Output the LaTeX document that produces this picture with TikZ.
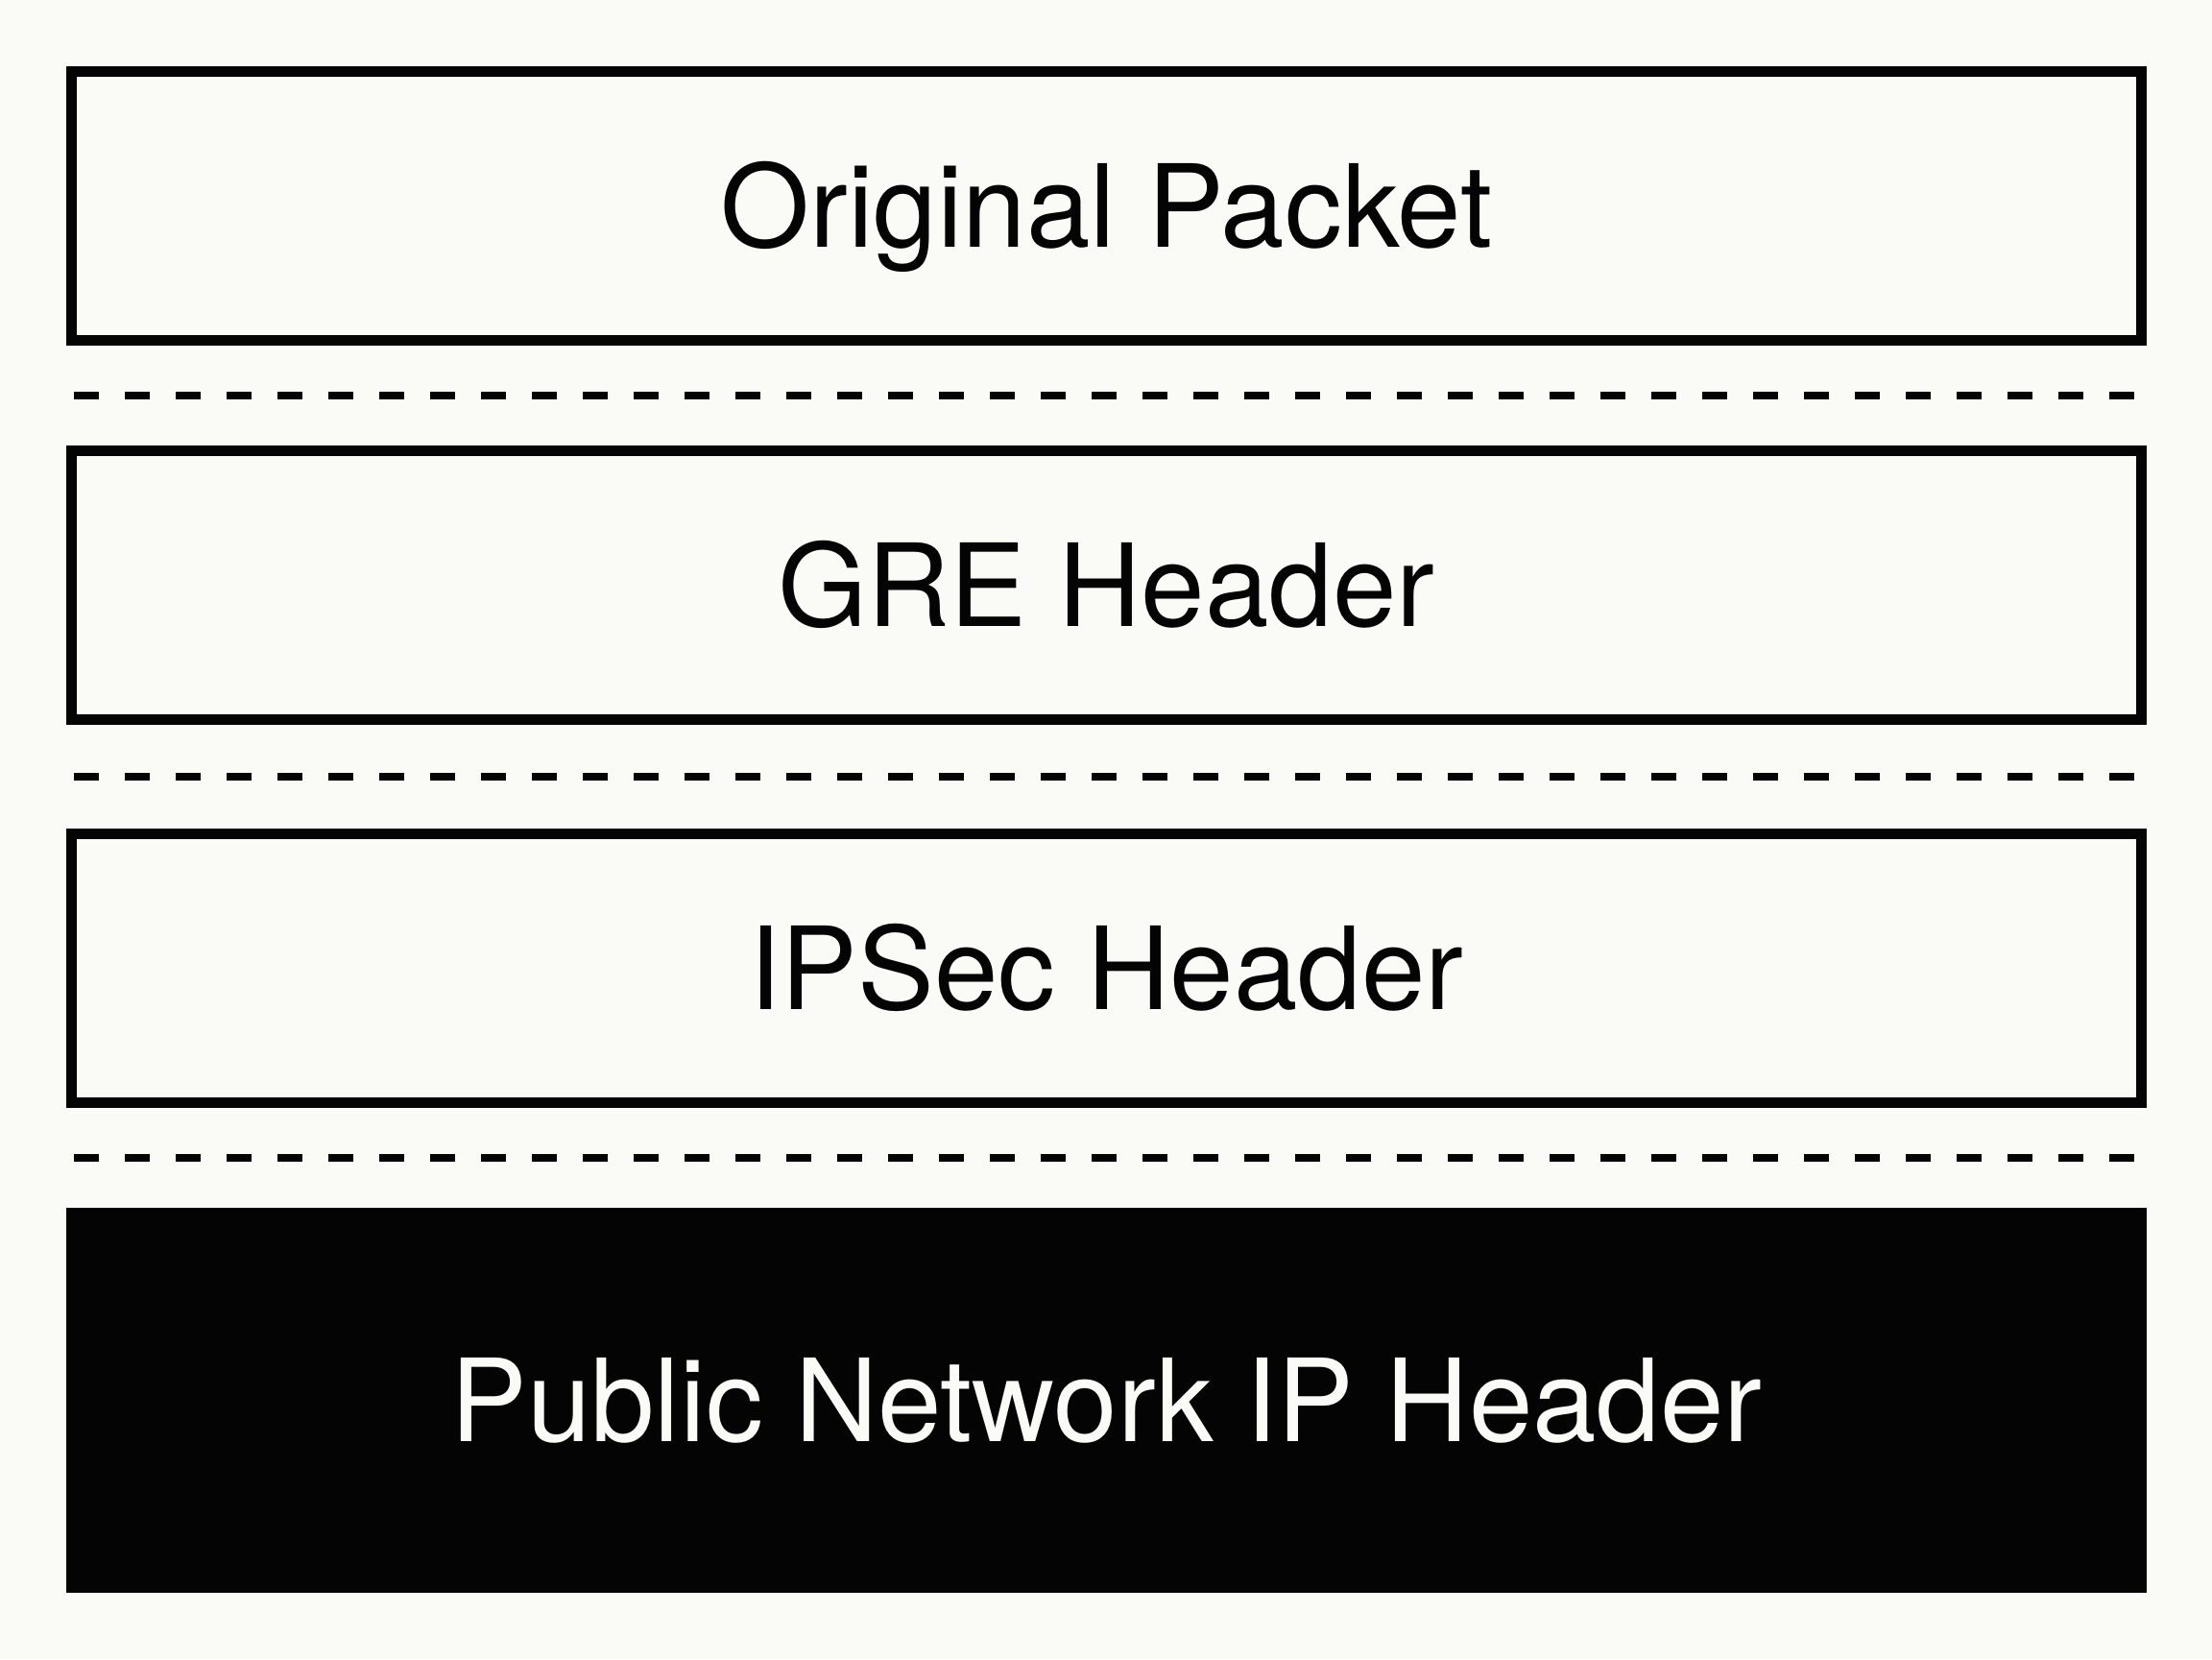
\documentclass[tikz,border=0pt]{standalone}
\usepackage{fontspec}
\setmainfont{TeX Gyre Heros}
\usetikzlibrary{positioning,calc}
\definecolor{paper}{RGB}{250,250,247}
\definecolor{ink}{RGB}{4,4,4}

\begin{document}
\begin{tikzpicture}[
  layer/.style={rectangle, draw=ink, line width=0.11cm, fill=paper, text=ink,
                minimum width=21.56cm, minimum height=2.80cm, inner sep=0pt,
                text height=0.86cm, text depth=0pt, font=\fontsize{34}{41}\selectfont},
  outerhdr/.style={rectangle, fill=ink, text=paper, minimum width=21.67cm,
                   minimum height=4.01cm, inner sep=0pt, outer sep=0pt,
                   text height=0.86cm, text depth=0pt, font=\fontsize{34}{41}\selectfont},
  sep/.style={ink, line width=0.08cm, dash pattern=on 0.26cm off 0.27cm},
  node distance=1.04cm
]
\fill[paper] (0,0) rectangle (23.04,-17.28);

\node[layer] (orig) at (11.525,-2.145) {Original Packet};
\node[layer,below=of orig] (gre) {GRE Header};
\node[layer,below=of gre,yshift=-0.04cm] (ipsec) {IPSec Header};
\node[outerhdr,below=of ipsec] (pub) {Public Network IP Header};

% separators between the layers
\draw[sep] ($(orig.south west)!.5!(gre.north west)+(0.08,0)$) -- ($(orig.south east)!.5!(gre.north east)-(0.08,0)$);
\draw[sep] ($(gre.south west)!.5!(ipsec.north west)+(0.08,0)$) -- ($(gre.south east)!.5!(ipsec.north east)-(0.08,0)$);
\draw[sep] ($(ipsec.south west)!.5!(pub.north west)+(0.08,0)$) -- ($(ipsec.south east)!.5!(pub.north east)-(0.08,0)$);
\end{tikzpicture}
\end{document}
